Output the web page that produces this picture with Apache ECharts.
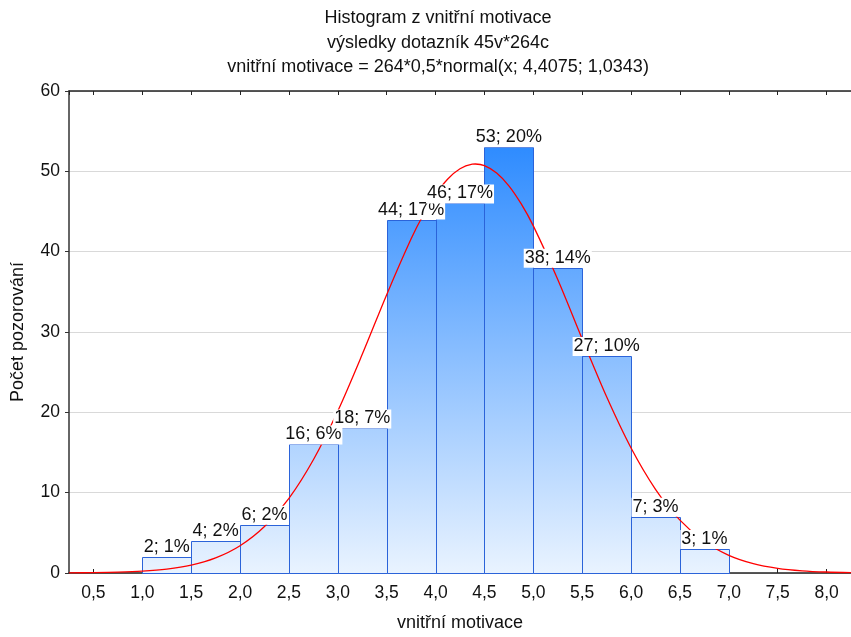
<!DOCTYPE html>
<html><head><meta charset="utf-8">
<script src="https://cdn.jsdelivr.net/npm/echarts@6/dist/echarts.min.js"></script>
<style>html,body{margin:0;padding:0;background:#fff}#c{width:851px;height:637px}</style>
</head><body><div id="c"></div>
<script>
const titleLines = ['Histogram z vnitřní motivace', 'výsledky dotazník 45v*264c', 'vnitřní motivace = 264*0,5*normal(x; 4,4075; 1,0343)'];
const xAxisName = 'vnitřní motivace';
const yAxisName = 'Počet pozorování';
const binStarts = [1.0, 1.5, 2.0, 2.5, 3.0, 3.5, 4.0, 4.5, 5.0, 5.5, 6.0, 6.5];
const binEnds   = [1.5, 2.0, 2.5, 3.0, 3.5, 4.0, 4.5, 5.0, 5.5, 6.0, 6.5, 7.0];
const counts    = [2, 4, 6, 16, 18, 44, 46, 53, 38, 27, 7, 3];
const curveX = [0.25, 0.5, 0.75, 1.0, 1.25, 1.5, 1.75, 2.0, 2.25, 2.5, 2.75, 3.0, 3.25, 3.5, 3.75, 3.875, 4.0, 4.125, 4.25, 4.375, 4.4075, 4.5, 4.625, 4.75, 4.875, 5.0, 5.25, 5.5, 5.75, 6.0, 6.25, 6.5, 6.75, 7.0, 7.25, 7.5, 7.75, 8.0, 8.25];
const curveY = [0.016, 0.041, 0.098, 0.224, 0.482, 0.979, 1.876, 3.391, 5.781, 9.295, 14.10, 20.17, 27.22, 34.65, 41.60, 44.59, 47.11, 49.05, 50.33, 50.89, 50.91, 50.71, 49.80, 48.20, 45.97, 43.21, 36.54, 29.14, 21.93, 15.56, 10.42, 6.577, 3.917, 2.200, 1.166, 0.583, 0.275, 0.122, 0.051];
const yTicksMax = 60;

const FONT = 'Liberation Sans, Arial, sans-serif';
const total = counts.reduce((a, b) => a + b, 0);
const barData = binStarts.map((s, i) => [s, binEnds[i], counts[i]]);
const fmt = v => v.toFixed(1).replace('.', ',');

const chart = echarts.init(document.getElementById('c'));

function renderBar(params, api) {
  const p0 = api.coord([api.value(0), 0]);
  const p1 = api.coord([api.value(1), api.value(2)]);
  const top = api.coord([0, yTicksMax])[1];
  const bottom = api.coord([0, 0])[1];
  return {
    type: 'rect',
    shape: { x: Math.round(p0[0]) + 0.5, y: Math.round(p1[1]) + 0.5, width: Math.round(p1[0]) - Math.round(p0[0]), height: Math.round(p0[1]) - Math.round(p1[1]) },
    style: {
      fill: new echarts.graphic.LinearGradient(0, top, 0, bottom, [
        { offset: 0, color: '#167eff' },
        { offset: 1, color: '#e9f3ff' }
      ], true),
      stroke: '#2b63d9',
      lineWidth: 1
    }
  };
}

function renderLabel(params, api) {
  const p0 = api.coord([api.value(0), 0]);
  const p1 = api.coord([api.value(1), api.value(2)]);
  const v = api.value(2);
  return {
    type: 'text',
    x: (p0[0] + p1[0]) / 2,
    y: p1[1],
    style: {
      text: v + '; ' + Math.round(v / total * 100) + '%',
      fill: '#111',
      fontSize: 18,
      fontFamily: FONT,
      align: 'center',
      verticalAlign: 'bottom',
      backgroundColor: '#fff',
      padding: [0, 1, 1, 1]
    }
  };
}

const xCommon = {
  type: 'value', min: 0.25, max: 8.25, minInterval: 0.5, maxInterval: 0.5, splitNumber: 16,
  splitLine: { show: false }
};

chart.setOption({
  animation: false,
  backgroundColor: '#fff',
  title: {
    text: titleLines.join('\n'),
    left: 433, top: 1, textAlign: 'center',
    textStyle: { fontSize: 18, fontWeight: 'normal', color: '#111', fontFamily: FONT, lineHeight: 24.5 }
  },
  grid: { left: 69, right: -4, top: 91, bottom: 60, containLabel: false },
  xAxis: [
    Object.assign({}, xCommon, {
      position: 'bottom',
      name: xAxisName, nameLocation: 'middle', nameGap: 41,
      nameTextStyle: { fontSize: 18, color: '#111', fontFamily: FONT },
      axisLine: { show: true, lineStyle: { color: '#222', width: 1.5 } },
      axisTick: { show: true, inside: true, length: 4, lineStyle: { color: '#222' } },
      axisLabel: { formatter: fmt, showMinLabel: false, showMaxLabel: false, fontSize: 17.5, color: '#111', fontFamily: FONT, margin: 11 }
    }),
    Object.assign({}, xCommon, {
      position: 'top',
      axisLine: { show: true, lineStyle: { color: '#222', width: 1.5 } },
      axisTick: { show: true, inside: true, length: 4, lineStyle: { color: '#222' } },
      axisLabel: { show: false }
    })
  ],
  yAxis: {
    type: 'value', min: 0, max: yTicksMax, interval: 10,
    name: yAxisName, nameLocation: 'middle', nameGap: 42,
    nameTextStyle: { fontSize: 18, color: '#111', fontFamily: FONT },
    axisLine: { show: true, lineStyle: { color: '#333', width: 1.5 } },
    axisTick: { show: true, inside: false, length: 4, lineStyle: { color: '#333' } },
    axisLabel: { fontSize: 17.5, color: '#111', fontFamily: FONT, margin: 9 },
    splitLine: { show: true, lineStyle: { color: '#d9d9d9', width: 1 } }
  },
  series: [
    { type: 'custom', xAxisIndex: 0, renderItem: renderBar, data: barData, encode: { x: [0, 1], y: 2 }, z: 2, clip: false },
    { type: 'line', xAxisIndex: 0, data: curveX.map((x, i) => [x, curveY[i]]), showSymbol: false, smooth: 0.3,
      lineStyle: { color: '#ff0000', width: 1.3 }, z: 3 },
    { type: 'custom', xAxisIndex: 0, renderItem: renderLabel, data: barData, encode: { x: [0, 1], y: 2 }, z: 4, clip: false }
  ]
});
</script>
</body></html>
